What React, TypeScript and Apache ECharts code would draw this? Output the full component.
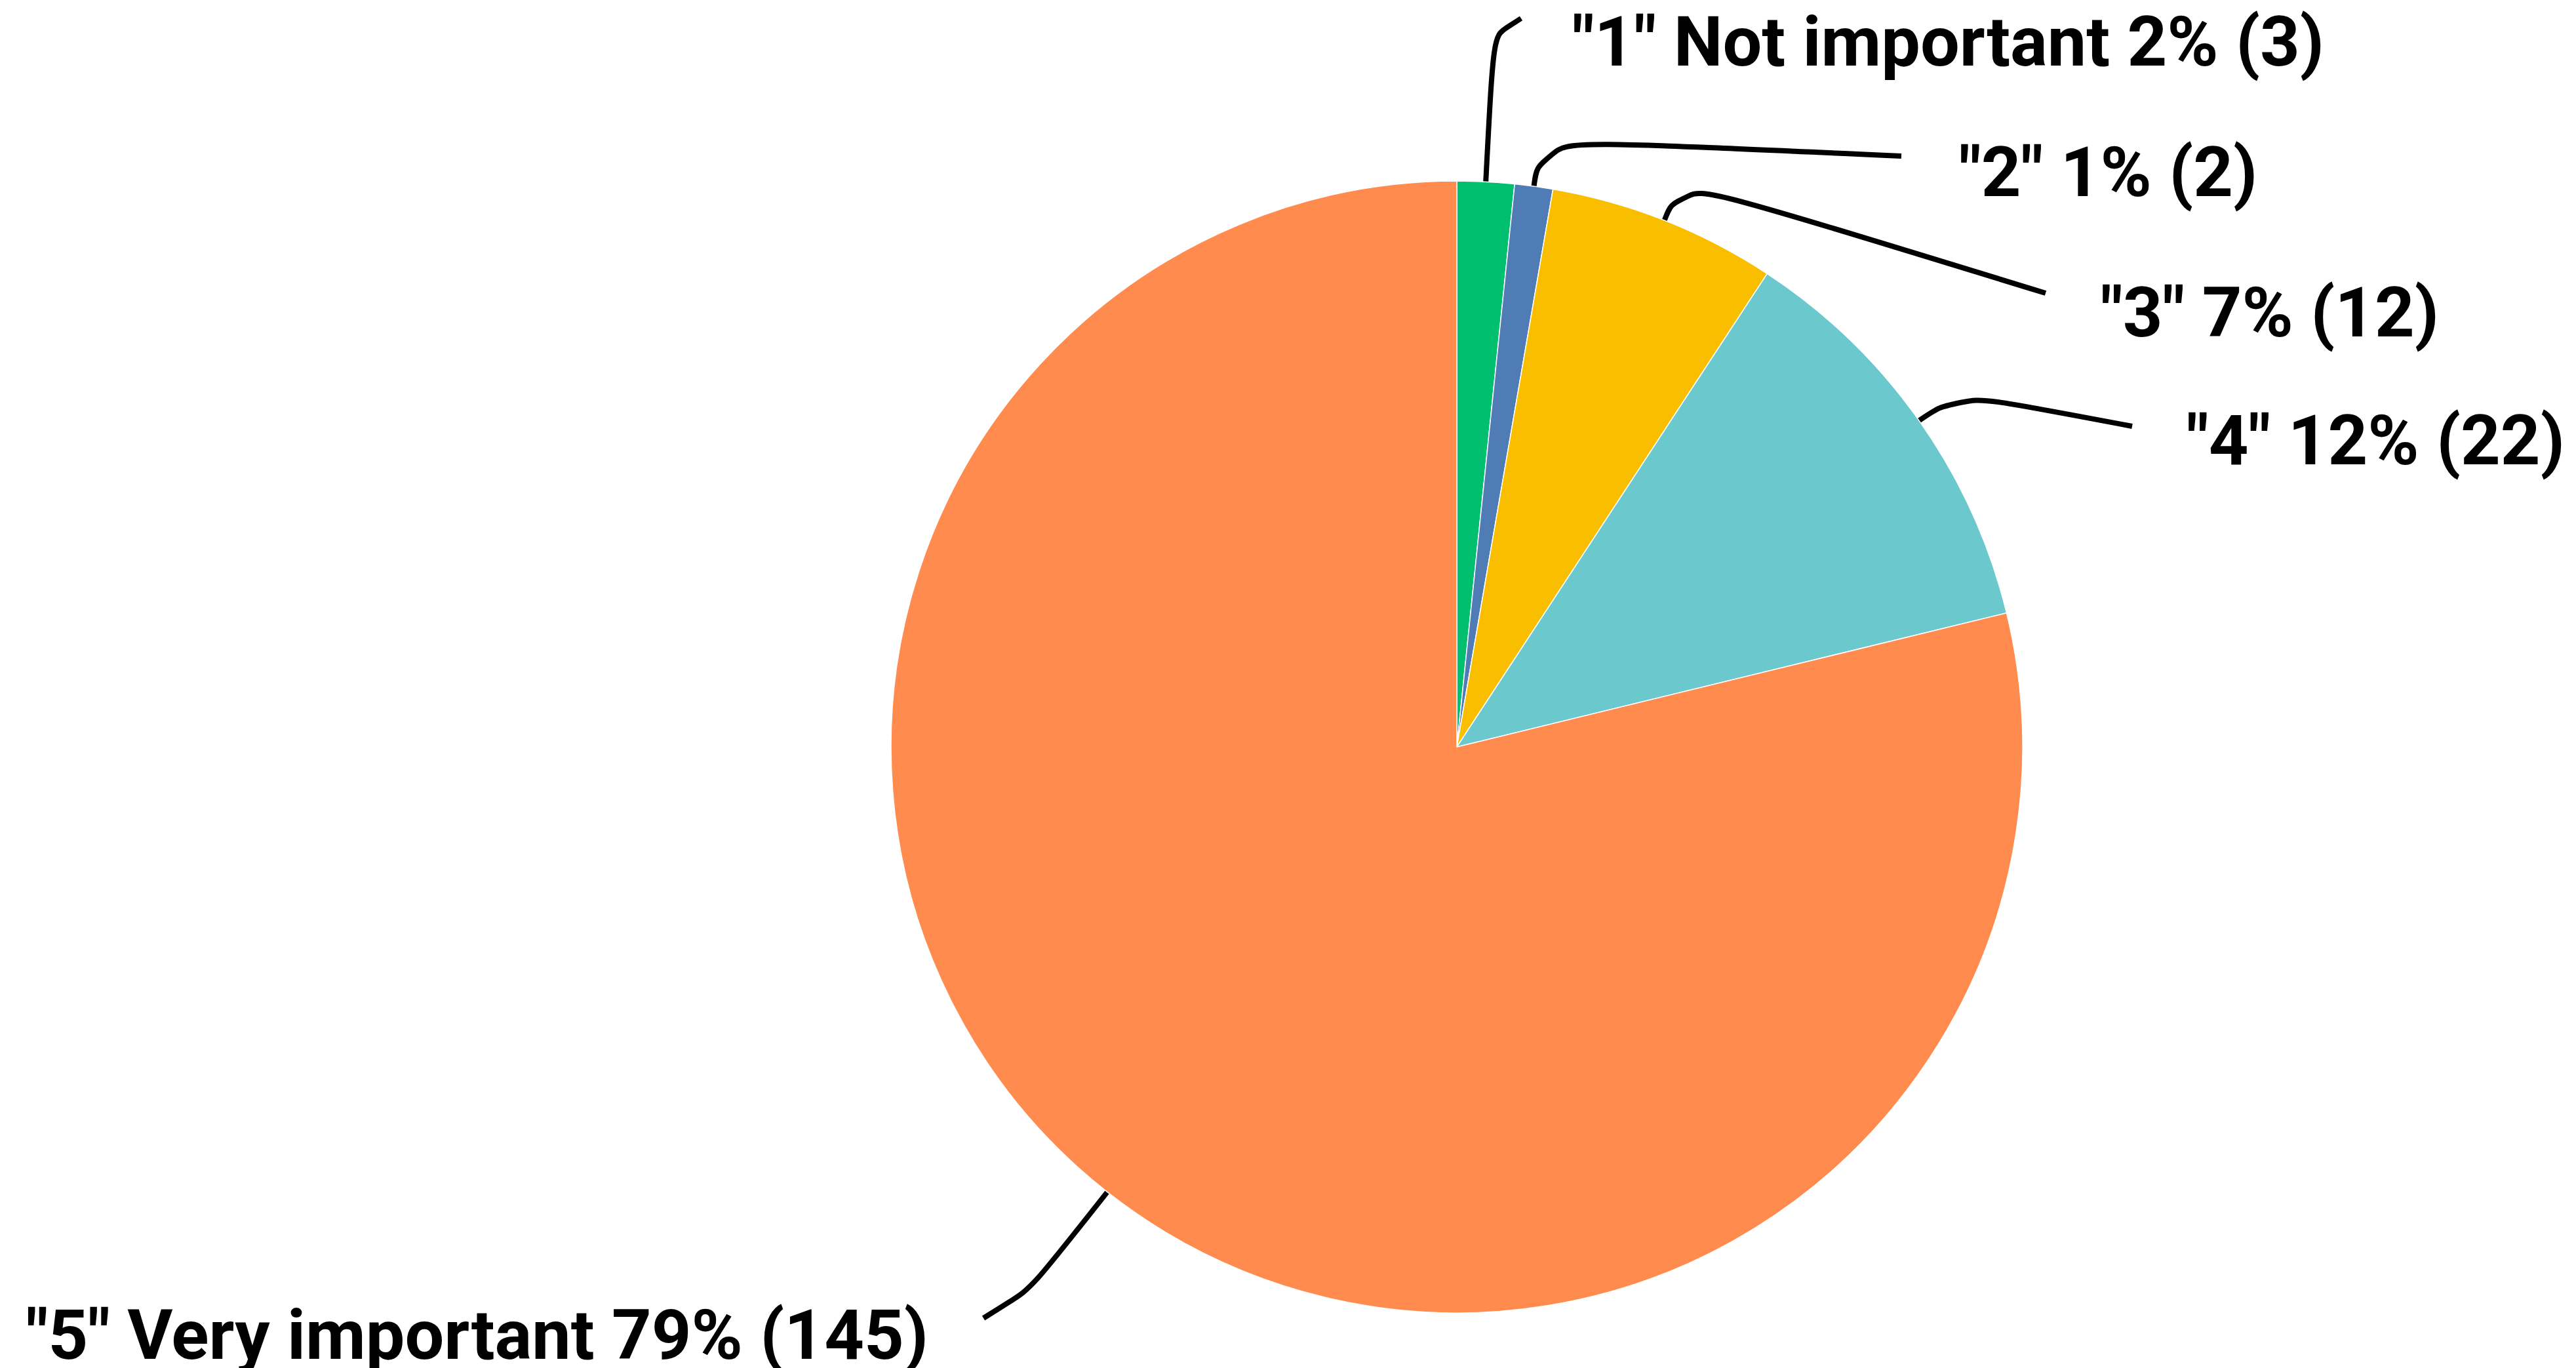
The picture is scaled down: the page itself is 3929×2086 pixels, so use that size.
import React, { useEffect, useRef } from 'react';
import * as echarts from 'echarts';

// ---- data ----
const categories = ['"1" Not important', '"2"', '"3"', '"4"', '"5" Very important'];
const counts = [3, 2, 12, 22, 145];
const percents = [2, 1, 7, 12, 79];
const colors = ['#00BF6F', '#507CB6', '#F9BE00', '#6BC8CD', '#FF8B4F'];

// ---- layout (pixels in the 3929 x 2086 frame) ----
const W = 3929;
const H = 2086;
const CENTER: [number, number] = [2222, 1139];
const RADIUS = 863;
// label text anchor: x, y (middle), align
const labelAnchors: [number, number, string][] = [
  [2398, 64, 'left'],
  [2988, 263, 'left'],
  [3204, 477, 'left'],
  [3335, 672, 'left'],
  [1416, 2036, 'right'],
];
// leader line knee and end points
const lineKnees: [number, number][] = [
  [2280, 12],
  [2349, 213],
  [2562, 276],
  [2988, 600],
  [1545, 2000],
];
const lineEnds: [number, number][] = [
  [2320, 28],
  [2900, 238],
  [3120, 447],
  [3252, 650],
  [1500, 2010],
];
const lineSmooth = [1, 0.6, 0.6, 0.5, 1];

function edgePoint(i: number): [number, number] {
  const total = counts.reduce((a, b) => a + b, 0);
  let before = 0;
  for (let k = 0; k < i; k++) before += counts[k];
  const mid = ((before + counts[i] / 2) / total) * Math.PI * 2;
  return [CENTER[0] + RADIUS * Math.sin(mid), CENTER[1] - RADIUS * Math.cos(mid)];
}

export default function App() {
  const ref = useRef<HTMLDivElement>(null);
  useEffect(() => {
    document.body.style.margin = '0';
    document.body.style.overflow = 'hidden';
    if (!ref.current) return;
    const chart = echarts.init(ref.current, null, { renderer: 'svg' });
    const data = categories.map((name, i) => ({
      name,
      value: counts[i],
      itemStyle: { color: colors[i] },
      labelLine: {
        show: true,
        smooth: lineSmooth[i],
        lineStyle: { color: '#000000', width: 8 },
      },
    }));
    chart.setOption({
      animation: false,
      backgroundColor: '#ffffff',
      series: [
        {
          type: 'pie',
          center: CENTER,
          radius: RADIUS,
          startAngle: 90,
          clockwise: true,
          silent: true,
          avoidLabelOverlap: false,
          data,
          itemStyle: { borderColor: '#ffffff', borderWidth: 1.5 },
          label: {
            show: true,
            position: 'outside',
            formatter: (p: any) => `${p.name} ${percents[p.dataIndex]}% (${counts[p.dataIndex]})`,
            fontFamily: 'Roboto',
            fontWeight: 'bold',
            fontSize: 106,
            color: '#000000',
            lineHeight: 110,
          },
          labelLine: {
            show: true,
            length: 40,
            length2: 40,
            smooth: 0.6,
            lineStyle: { color: '#000000', width: 8 },
          },
          labelLayout: (params: any) => {
            const i = params.dataIndex;
            const a = labelAnchors[i];
            return {
              x: a[0],
              y: a[1],
              align: a[2],
              verticalAlign: 'middle',
              labelLinePoints: [edgePoint(i), lineKnees[i], lineEnds[i]],
            };
          },
        },
      ],
    });
    return () => chart.dispose();
  }, []);
  return <div ref={ref} style={{ width: W, height: H }} />;
}
